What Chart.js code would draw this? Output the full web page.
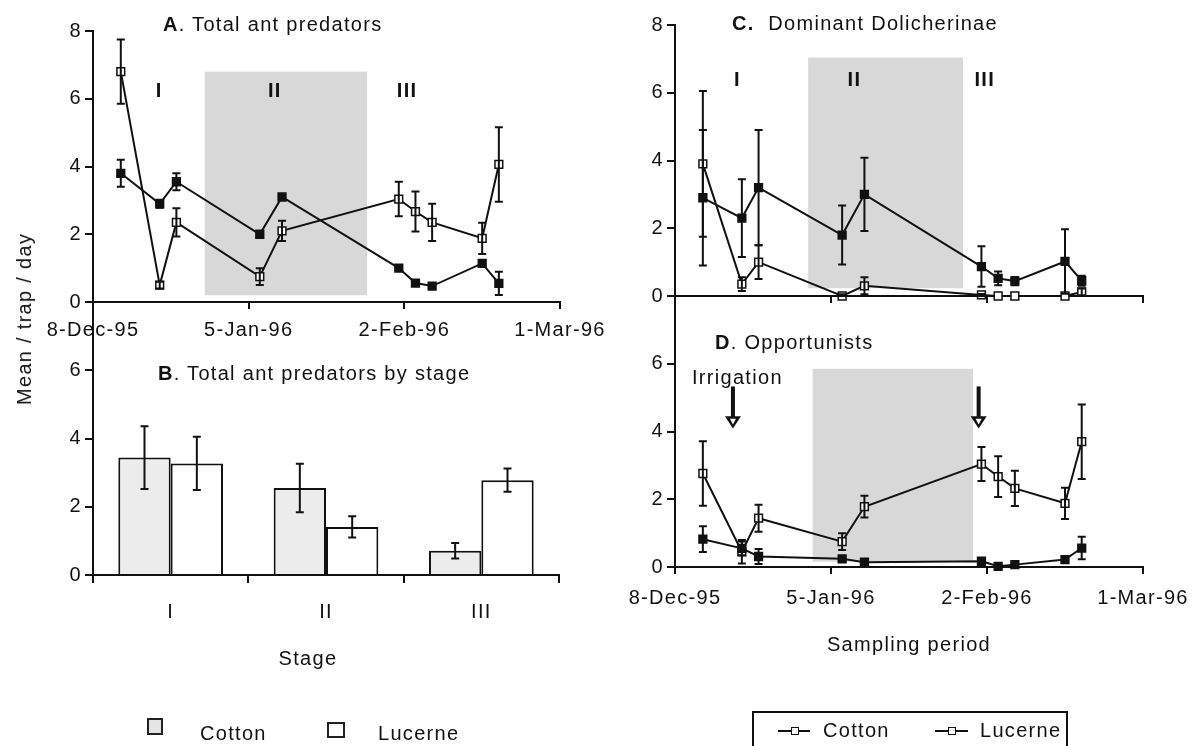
<!DOCTYPE html>
<html>
<head>
<meta charset="utf-8">
<script src="https://cdn.jsdelivr.net/npm/chart.js@4.4.1/dist/chart.umd.min.js"></script>
<style>
  html, body { margin: 0; padding: 0; background: #fff; }
  #fig { position: relative; width: 1202px; height: 746px; overflow: hidden;
         font-family: "Liberation Sans", Arial, sans-serif; color: #111; }
  #fig canvas { position: absolute; left: 0; top: 0; }
  .t { position: absolute; font-size: 20px; line-height: 20px; letter-spacing: 1.3px; white-space: nowrap; }
  .t b { font-weight: bold; }
  .box { position: absolute; box-sizing: border-box; }
</style>
</head>
<body>
<div id="fig">
  <canvas id="chartA" width="1202" height="746"></canvas>
  <canvas id="chartB" width="1202" height="746"></canvas>
  <canvas id="chartC" width="1202" height="746"></canvas>
  <canvas id="chartD" width="1202" height="746"></canvas>

  <div class="t" style="left:163px;top:14px;"><b>A</b>. Total ant predators</div>
  <div class="t" style="left:158px;top:363px;"><b>B</b>. Total ant predators by stage</div>
  <div class="t" style="left:732px;top:13px;"><b>C.</b>&nbsp; Dominant Dolicherinae</div>
  <div class="t" style="left:715px;top:332px;"><b>D</b>. Opportunists</div>
  <div class="t" style="left:692px;top:367px;">Irrigation</div>

  <div class="t" style="left:24px;top:319px;transform:translate(-50%,-50%) rotate(-90deg);">Mean / trap / day</div>
  <div class="t" style="left:308px;top:648px;transform:translateX(-50%);">Stage</div>
  <div class="t" style="left:909px;top:634px;transform:translateX(-50%);">Sampling period</div>

  <!-- bar legend -->
  <div class="box" style="left:147px;top:718px;width:16px;height:17px;border:2px solid #222;background:#e4e4e4;"></div>
  <div class="t" style="left:200px;top:723px;">Cotton</div>
  <div class="box" style="left:327px;top:722px;width:18px;height:16px;border:2px solid #222;background:#fff;"></div>
  <div class="t" style="left:378px;top:723px;">Lucerne</div>

  <!-- line legend -->
  <div class="box" style="left:752px;top:711px;width:316px;height:60px;border:2px solid #111;"></div>
  <div class="box" style="left:778px;top:730px;width:32px;height:2px;background:#111;"></div>
  <div class="box" style="left:791px;top:727px;width:8px;height:8px;border:1.5px solid #111;background:#fff;"></div>
  <div class="t" style="left:823px;top:720px;">Cotton</div>
  <div class="box" style="left:935px;top:730px;width:33px;height:2px;background:#111;"></div>
  <div class="box" style="left:948px;top:727px;width:8px;height:8px;border:1.5px solid #111;background:#fff;"></div>
  <div class="t" style="left:980px;top:720px;">Lucerne</div>
</div>

<script>
// ---- sampling calendar ----
const sampleDates = ['1995-12-13','1995-12-20','1995-12-23','1996-01-07','1996-01-11',
                     '1996-02-01','1996-02-04','1996-02-07','1996-02-16','1996-02-19'];
const axisDates = ['1995-12-08','1996-01-05','1996-02-02','1996-03-01'];
const axisDateLabels = ['8-Dec-95','5-Jan-96','2-Feb-96','1-Mar-96'];

// ---- A. total ant predators (mean and SE per sample) ----
const totalCotton    = [3.8, 2.9, 3.55, 2.0, 3.1, 1.0, 0.56, 0.47, 1.14, 0.55];
const totalCottonSE  = [0.4, 0.12, 0.25, 0.06, 0.06, 0.05, 0.07, 0.05, 0.1, 0.34];
const totalLucerne   = [6.8, 0.5, 2.35, 0.75, 2.1, 3.04, 2.67, 2.35, 1.88, 4.06];
const totalLucerneSE = [0.95, 0.1, 0.42, 0.25, 0.3, 0.51, 0.59, 0.55, 0.46, 1.1];

// ---- B. totals by crop stage ----
const stageNames        = ['I', 'II', 'III'];
const cottonByStage     = [3.44, 2.55, 0.71];
const cottonByStageSE   = [0.92, 0.71, 0.23];
const lucerneByStage    = [3.27, 1.41, 2.78];
const lucerneByStageSE  = [0.78, 0.31, 0.34];

// ---- C. dominant Dolicherinae ----
const dolichCotton    = [2.9, 2.3, 3.2, 1.8, 3.0, 0.87, 0.52, 0.44, 1.02, 0.45];
const dolichCottonSE  = [2.0, 1.15, 1.7, 0.87, 1.08, 0.6, 0.2, 0.12, 0.95, 0.15];
const dolichLucerne   = [3.9, 0.35, 1.0, 0.0, 0.3, 0.03, 0.0, 0.0, 0.0, 0.12];
const dolichLucerneSE = [2.15, 0.2, 0.5, 0.05, 0.25, 0.03, 0, 0, 0, 0.1];

// ---- D. opportunists ----
const oppCotton    = [0.82, 0.55, 0.31, 0.24, 0.14, 0.17, 0.02, 0.07, 0.22, 0.56];
const oppCottonSE  = [0.38, 0.2, 0.22, 0.04, 0.04, 0.03, 0.03, 0.03, 0.04, 0.33];
const oppLucerne   = [2.76, 0.45, 1.44, 0.75, 1.78, 3.04, 2.67, 2.32, 1.88, 3.7];
const oppLucerneSE = [0.95, 0.35, 0.4, 0.25, 0.32, 0.5, 0.6, 0.52, 0.46, 1.1];

// stage II period (days from 8-Dec-95) and its marker labels
const stageBandA = [20.1, 49.3];
const stageBandC = [23.9, 51.7];
const stageBandD = [24.7, 53.5];
const stageLabelDaysA = [11.9, 32.7, 56.5];
const stageLabelDaysC = [11.2, 32.2, 55.6];
const irrigationDays = [10.4, 54.5];

const day0 = Date.parse(axisDates[0]);
const dayOf = s => Math.round((Date.parse(s) - day0) / 86400000);
const sampleDays = sampleDates.map(dayOf);
const axisDays = axisDates.map(dayOf);

const FONT = '"Liberation Sans", Arial, sans-serif';
const INK = '#111';

function figPlugin(cfg) {
  return {
    id: 'fig',
    beforeDraw(chart) { chart.ctx.letterSpacing = '1.3px'; },
    beforeDatasetsDraw(chart) {
      const { ctx, scales: { x, y } } = chart;
      if (cfg.band) {
        const b = cfg.band;
        const x1 = x.getPixelForValue(b[0]), x2 = x.getPixelForValue(b[1]);
        const y1 = y.getPixelForValue(b[3]), y2 = y.getPixelForValue(b[2]);
        ctx.save();
        ctx.fillStyle = '#d8d8d8';
        ctx.fillRect(x1, y1, x2 - x1, y2 - y1);
        ctx.restore();
      }
    },
    afterDatasetsDraw(chart) {
      const { ctx, scales: { x, y } } = chart;
      ctx.save();
      ctx.strokeStyle = INK;
      ctx.lineWidth = 2;
      chart.data.datasets.forEach((ds, i) => {
        if (!ds.errors) return;
        chart.getDatasetMeta(i).data.forEach((el, j) => {
          const e = ds.errors[j];
          if (!e) return;
          const raw = ds.data[j];
          const v = typeof raw === 'number' ? raw : raw.y;
          const yt = y.getPixelForValue(v + e);
          const yb = y.getPixelForValue(Math.max(0, v - e));
          ctx.beginPath();
          ctx.moveTo(el.x, yt); ctx.lineTo(el.x, yb);
          ctx.moveTo(el.x - 4, yt); ctx.lineTo(el.x + 4, yt);
          ctx.moveTo(el.x - 4, yb); ctx.lineTo(el.x + 4, yb);
          ctx.stroke();
        });
      });
      if (cfg.stageLabels) {
        ctx.fillStyle = INK;
        ctx.font = 'bold 20px ' + FONT;
        ctx.textAlign = 'center';
        ctx.textBaseline = 'middle';
        cfg.stageLabels.days.forEach((d, k) => {
          ctx.fillText(stageNames[k], x.getPixelForValue(d), y.getPixelForValue(cfg.stageLabels.y));
        });
      }
      if (cfg.arrows) {
        cfg.arrows.forEach(d => {
          const px = x.getPixelForValue(d);
          const top = y.getPixelForValue(5.33), base = y.getPixelForValue(4.45), tip = y.getPixelForValue(4.09);
          ctx.fillStyle = INK;
          ctx.fillRect(px - 2, top, 4, base - top + 1);
          ctx.beginPath();
          ctx.moveTo(px - 8, base); ctx.lineTo(px + 8, base); ctx.lineTo(px, tip); ctx.closePath();
          ctx.fill();
          ctx.fillStyle = '#fff';
          ctx.beginPath();
          ctx.moveTo(px - 3, base + 2.5); ctx.lineTo(px + 3, base + 2.5); ctx.lineTo(px, tip - 4); ctx.closePath();
          ctx.fill();
        });
      }
      ctx.restore();
    }
  };
}

const pts = vals => vals.map((v, i) => ({ x: sampleDays[i], y: v }));

function lineSeries(label, vals, se, filled) {
  return {
    label, data: pts(vals), errors: se,
    borderColor: INK, borderWidth: 2, tension: 0,
    pointStyle: 'rect', pointRadius: 5.5,
    pointBackgroundColor: filled ? INK : '#fff',
    pointBorderColor: INK, pointBorderWidth: 1.5
  };
}

function yAxis(width, hideTop) {
  return {
    min: 0, max: 8,
    afterFit: s => { s.width = width; },
    afterBuildTicks: s => { s.ticks = [0, 2, 4, 6, 8].map(v => ({ value: v })); },
    ticks: {
      color: INK, padding: 3, font: { family: FONT, size: 20 },
      callback: v => (hideTop && v === 8) ? '' : String(v)
    },
    grid: { drawOnChartArea: false, drawTicks: true, tickLength: 8, color: INK, lineWidth: 2 },
    border: { display: true, color: INK, width: 2 }
  };
}

function dateAxis(height, showLabels, padding) {
  return {
    type: 'linear', min: axisDays[0], max: axisDays[axisDays.length - 1],
    afterFit: s => { s.height = height; },
    afterBuildTicks: s => { s.ticks = axisDays.map(v => ({ value: v })); },
    ticks: {
      display: showLabels, color: INK, padding, maxRotation: 0, autoSkip: false,
      font: { family: FONT, size: 20 },
      callback: v => axisDateLabels[axisDays.indexOf(v)]
    },
    grid: { drawOnChartArea: false, drawTicks: true, tickLength: 7, color: INK, lineWidth: 2 },
    border: { display: true, color: INK, width: 2 }
  };
}

function baseOptions(padding) {
  return {
    responsive: false, animation: false, devicePixelRatio: 1,
    layout: { padding, autoPadding: false },
    plugins: { legend: { display: false }, tooltip: { enabled: false } },
    clip: false
  };
}

// A. Total ant predators
new Chart(document.getElementById('chartA'), {
  type: 'line',
  data: { datasets: [
    lineSeries('Cotton', totalCotton, totalCottonSE, true),
    lineSeries('Lucerne', totalLucerne, totalLucerneSE, false)
  ] },
  options: Object.assign(baseOptions({ left: 0, top: 31, right: 642, bottom: 404 }), {
    scales: { x: dateAxis(40, true, 9), y: yAxis(93, false) }
  }),
  plugins: [figPlugin({ band: [stageBandA[0], stageBandA[1], 0.2, 6.8],
                        stageLabels: { days: stageLabelDaysA, y: 6.2 } })]
});

// B. Total ant predators by stage
new Chart(document.getElementById('chartB'), {
  type: 'bar',
  data: {
    labels: stageNames,
    datasets: [
      { label: 'Cotton', data: cottonByStage, errors: cottonByStageSE,
        backgroundColor: '#ececec', borderColor: INK, borderWidth: 2,
        categoryPercentage: 0.674, barPercentage: 1 },
      { label: 'Lucerne', data: lucerneByStage, errors: lucerneByStageSE,
        backgroundColor: '#ffffff', borderColor: INK, borderWidth: 2,
        categoryPercentage: 0.674, barPercentage: 1 }
    ]
  },
  options: Object.assign(baseOptions({ left: 0, top: 302, right: 643, bottom: 111 }), {
    scales: {
      x: {
        afterFit: s => { s.height = 60; },
        ticks: { color: INK, padding: 17, font: { family: FONT, size: 20 } },
        grid: { offset: true, drawOnChartArea: false, drawTicks: true, tickLength: 8, color: INK, lineWidth: 2 },
        border: { display: true, color: INK, width: 2 }
      },
      y: yAxis(93, true)
    }
  }),
  plugins: [figPlugin({})]
});

// C. Dominant Dolicherinae
new Chart(document.getElementById('chartC'), {
  type: 'line',
  data: { datasets: [
    lineSeries('Cotton', dolichCotton, dolichCottonSE, true),
    lineSeries('Lucerne', dolichLucerne, dolichLucerneSE, false)
  ] },
  options: Object.assign(baseOptions({ left: 600, top: 25, right: 59, bottom: 410 }), {
    scales: { x: dateAxis(40, false, 9), y: yAxis(75, false) }
  }),
  plugins: [figPlugin({ band: [stageBandC[0], stageBandC[1], 0.23, 7.04],
                        stageLabels: { days: stageLabelDaysC, y: 6.37 } })]
});

// D. Opportunists
new Chart(document.getElementById('chartD'), {
  type: 'line',
  data: { datasets: [
    lineSeries('Cotton', oppCotton, oppCottonSE, true),
    lineSeries('Lucerne', oppLucerne, oppLucerneSE, false)
  ] },
  options: Object.assign(baseOptions({ left: 600, top: 296, right: 59, bottom: 129 }), {
    scales: { x: dateAxis(50, true, 12), y: yAxis(75, true) }
  }),
  plugins: [figPlugin({ band: [stageBandD[0], stageBandD[1], 0.16, 5.85],
                        arrows: irrigationDays })]
});
</script>
</body>
</html>
